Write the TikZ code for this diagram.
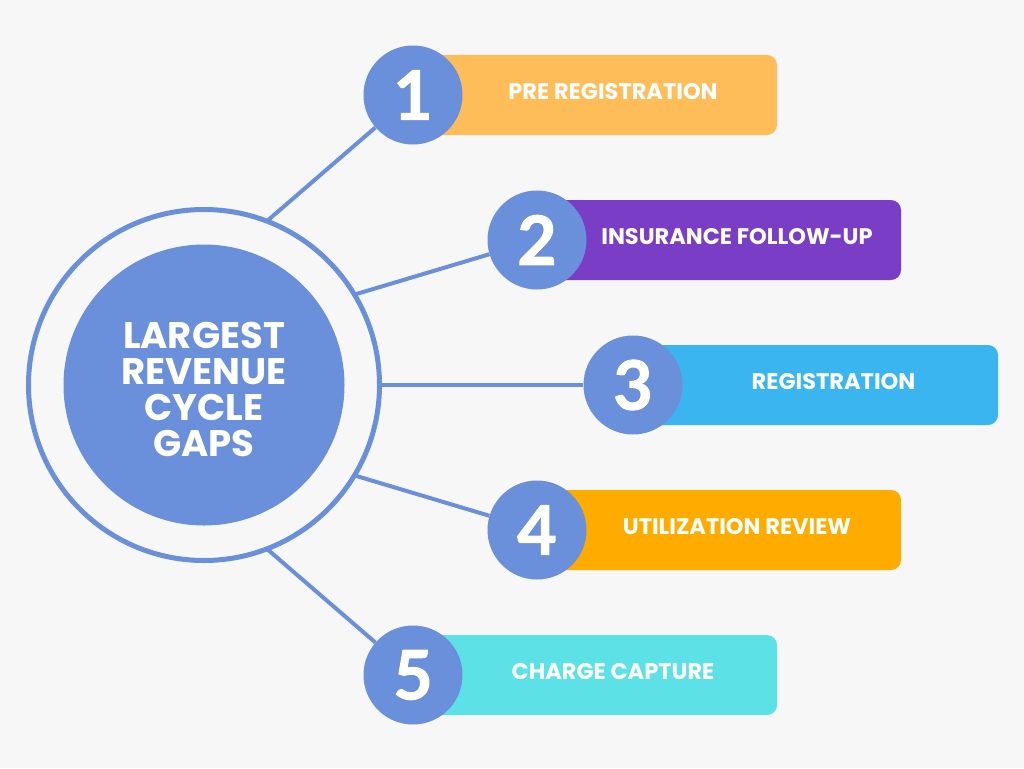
\documentclass[tikz,border=0pt]{standalone}
\usepackage{fontspec}
\setmainfont{Poppins}
\newfontfamily\digitfont{Lato}[BoldFeatures={FakeBold=1.5}]
\definecolor{bgcol}{HTML}{F7F7F7}
\definecolor{hubblue}{HTML}{6A8FDB}
\definecolor{barA}{HTML}{FFBD59}
\definecolor{barB}{HTML}{7A3EC6}
\definecolor{barC}{HTML}{3AB5EF}
\definecolor{barD}{HTML}{FFAB00}
\definecolor{barE}{HTML}{5CE1E6}
\tikzset{
  hubcirc/.style={circle,fill=hubblue,minimum size=281pt,inner sep=0pt},
  hubtext/.style={text=white,align=center,inner sep=0pt,font=\fontsize{37}{36}\selectfont\bfseries},
  ringcirc/.style={circle,draw=hubblue,line width=5pt,minimum size=351pt,inner sep=0pt,outer sep=0pt},
  numcirc/.style={circle,fill=hubblue,minimum size=99pt,inner sep=0pt,text=white,font=\digitfont\fontsize{68}{68}\selectfont\bfseries},
  bartext/.style={text=white,font=\fontsize{22.5}{22.5}\selectfont\bfseries},
  link/.style={hubblue,line width=4pt}
}
\begin{document}
\begin{tikzpicture}[x=1pt,y=-1pt]
\fill[bgcol] (0,0) rectangle (1024,768);
\node[hubcirc] (hub) at (204,385) {};
\node[hubtext] (title) at (204,389) {LARGEST\\REVENUE\\CYCLE\\GAPS};
\node[ringcirc] (ring) at (hub) {};
\foreach \i/\cx/\cy/\xr/\col/\txt in {1/413/95/777/barA/PRE REGISTRATION,2/537/240/901/barB/INSURANCE FOLLOW-UP,3/633/385/998/barC/REGISTRATION,4/537/530/901/barD/UTILIZATION REVIEW,5/413/675/777/barE/CHARGE CAPTURE} {
  \fill[\col,rounded corners=10pt] (\cx,\cy-40) rectangle (\xr,\cy+40);
  \node[bartext] (t\i) at ({(\cx+\xr)/2+18},\cy-3) {\txt};
  \node[numcirc] (n\i) at (\cx,\cy) {\i};
}
\foreach \i/\a in {1/69.5,2/31.5,3/0,4/-31.5,5/-69.5} {
  \draw[link] (ring.\a) -- (n\i);
}
\end{tikzpicture}
\end{document}
